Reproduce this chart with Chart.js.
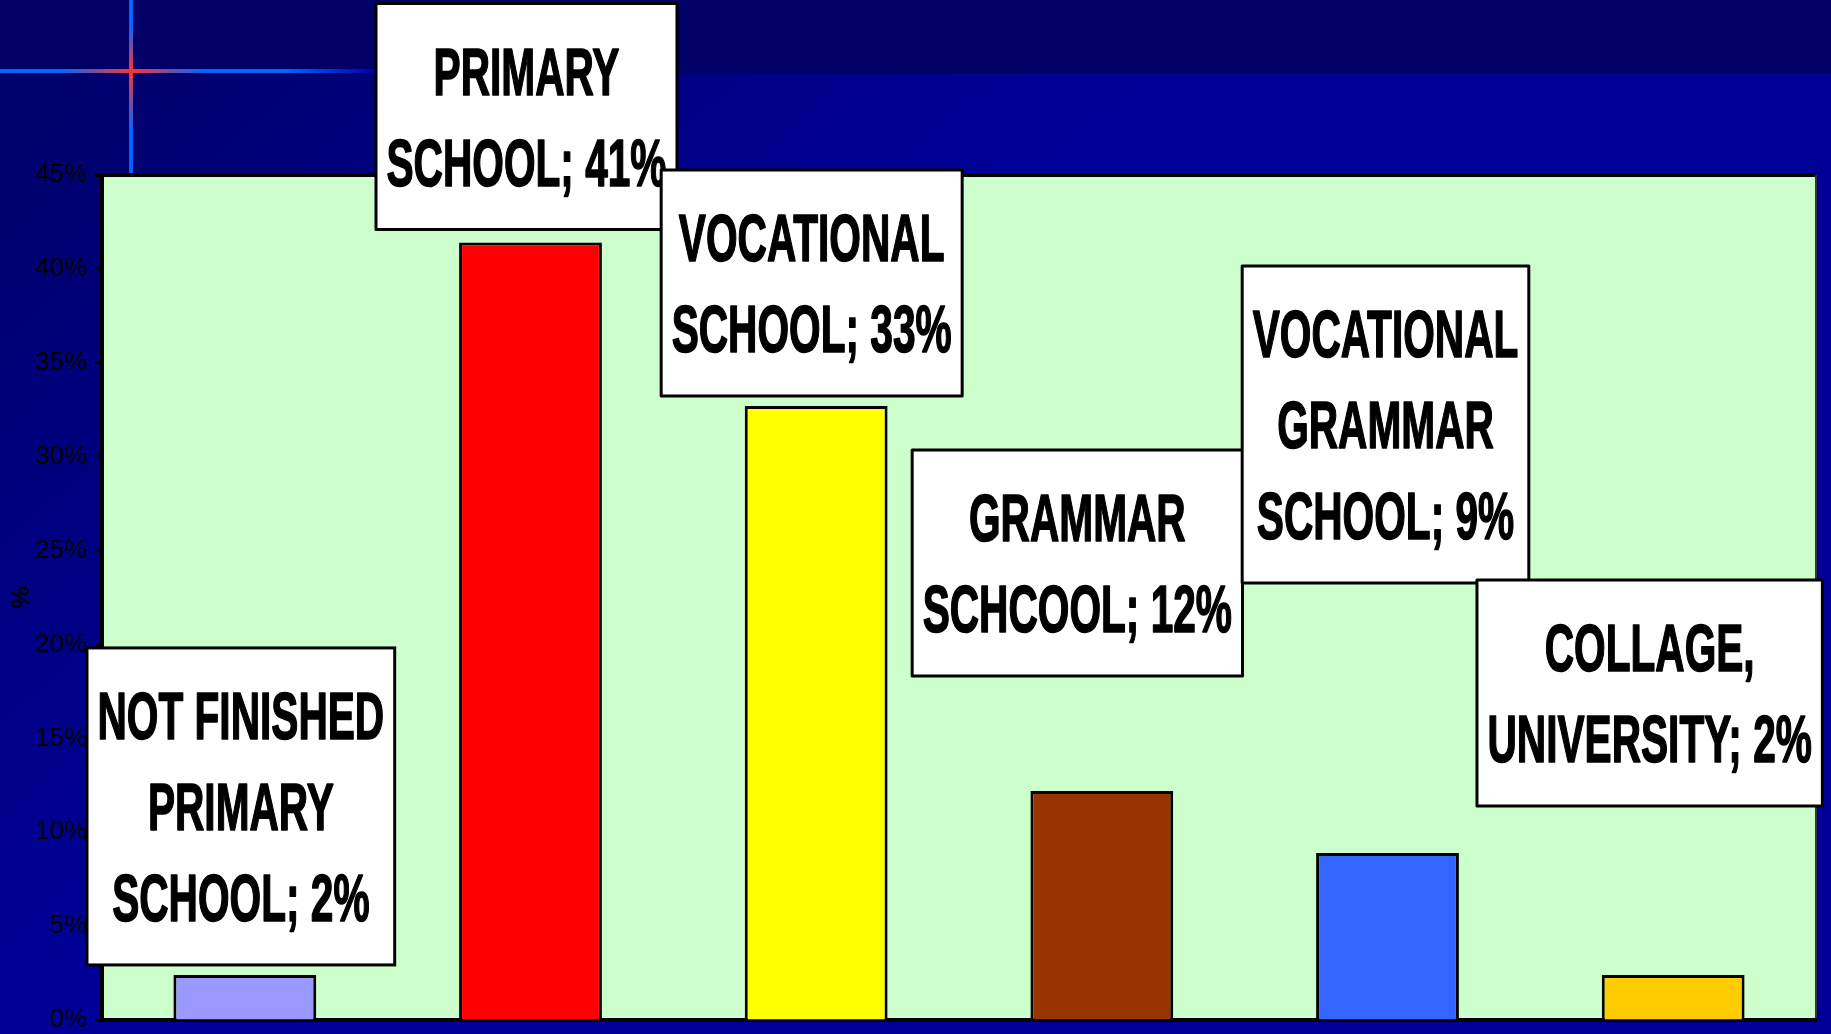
<!DOCTYPE html>
<html>
<head>
<meta charset="utf-8">
<script src="https://cdn.jsdelivr.net/npm/chart.js@4.4.1/dist/chart.umd.min.js"></script>
<style>
    html, body { margin: 0; padding: 0; background: #000066; }
    canvas { display: block; }
</style>
</head>
<body>
<canvas id="barChart" width="1831" height="1034"></canvas>
<script>
// Education level categories (last line gets the "; NN%" part)
var categories = [
    ["NOT FINISHED", "PRIMARY", "SCHOOL"],
    ["PRIMARY", "SCHOOL"],
    ["VOCATIONAL", "SCHOOL"],
    ["GRAMMAR", "SCHCOOL"],
    ["VOCATIONAL", "GRAMMAR", "SCHOOL"],
    ["COLLAGE,", "UNIVERSITY"]
];
// Share of respondents, in percent
var shares = [2.4, 41.4, 32.7, 12.2, 8.9, 2.4];
var barColors = ["#9999FF", "#FF0000", "#FFFF00", "#993300", "#3366FF", "#FFCC00"];
// y axis range in percent
var yMin = 0, yMax = 45, yStep = 5;

// Slide background, decorative cross and the green plot area
var backdrop = {
    id: "backdrop",
    beforeDraw: function (chart) {
        var ctx = chart.ctx, w = chart.width, h = chart.height, a = chart.chartArea;
        ctx.save();
        var g = ctx.createLinearGradient(0, 0, 900, 1034);
        g.addColorStop(0, "#000066");
        g.addColorStop(0.6, "#000099");
        g.addColorStop(1, "#000099");
        ctx.fillStyle = g;
        ctx.fillRect(0, 0, w, h);
        ctx.fillStyle = "#000066";
        ctx.fillRect(0, 0, w, 73);

        // horizontal stroke of the cross
        var gh = ctx.createLinearGradient(0, 0, 440, 0);
        gh.addColorStop(0, "#0066FF");
        gh.addColorStop(0.14, "#0066FF");
        gh.addColorStop(0.30, "#FF3333");
        gh.addColorStop(0.46, "#0066FF");
        gh.addColorStop(0.65, "#0066FF");
        gh.addColorStop(0.85, "#0000AA");
        gh.addColorStop(1, "rgba(0,0,153,0)");
        ctx.fillStyle = gh;
        ctx.fillRect(0, 69, 440, 4);
        // vertical stroke of the cross
        var gv = ctx.createLinearGradient(0, 0, 0, 173);
        gv.addColorStop(0, "#0066FF");
        gv.addColorStop(0.15, "#0066FF");
        gv.addColorStop(0.41, "#FF3333");
        gv.addColorStop(0.75, "#0066FF");
        gv.addColorStop(1, "#0066FF");
        ctx.fillStyle = gv;
        ctx.fillRect(129, 0, 4, 173);

        // plot area
        ctx.fillStyle = "#CCFFCC";
        ctx.fillRect(a.left, a.top, a.right - a.left, a.bottom - a.top);
        ctx.strokeStyle = "#000";
        ctx.lineWidth = 4;
        ctx.beginPath();
        ctx.moveTo(a.left, a.top);
        ctx.lineTo(a.right, a.top);
        ctx.stroke();
        ctx.strokeStyle = "#333";
        ctx.lineWidth = 2;
        ctx.beginPath();
        ctx.moveTo(a.right, a.top);
        ctx.lineTo(a.right, a.bottom);
        ctx.stroke();
        ctx.restore();
    }
};

// White boxed data labels, condensed bold text
var labelBoxes = {
    id: "labelBoxes",
    afterDraw: function (chart, args, opts) {
        var ctx = chart.ctx;
        var meta = chart.getDatasetMeta(0);
        ctx.save();
        ctx.font = 'bold 67px "Liberation Sans Narrow", "Arial Narrow", "Liberation Sans", sans-serif';
        var sx = 280 / ctx.measureText("SCHOOL; 41%").width; // squeeze to match the slide
        meta.data.forEach(function (bar, i) {
            var lines = chart.data.labels[i].slice();
            lines[lines.length - 1] += "; " + Math.round(shares[i]) + "%";
            var textW = Math.max.apply(null, lines.map(function (l) { return ctx.measureText(l).width * sx; }));
            var bw = textW + 21;
            var bh = lines.length * opts.lineHeight + 44;
            var cx = bar.x + opts.offsets[i][0];
            var bottom = bar.y + opts.offsets[i][1];
            var top = bottom - bh;
            ctx.fillStyle = "#FFFFFF";
            ctx.fillRect(cx - bw / 2, top, bw, bh);
            ctx.lineWidth = 3;
            ctx.strokeStyle = "#000";
            ctx.strokeRect(cx - bw / 2, top, bw, bh);
            ctx.fillStyle = "#000";
            ctx.textAlign = "center";
            ctx.textBaseline = "alphabetic";
            ctx.lineWidth = 1.6;
            ctx.lineJoin = "round";
            lines.forEach(function (l, k) {
                ctx.save();
                ctx.translate(cx, top + opts.lineHeight * (k + 1));
                ctx.scale(sx, 1);
                ctx.fillText(l, 0, 0);
                ctx.strokeText(l, 0, 0);
                ctx.restore();
            });
        });
        ctx.restore();
    }
};

var ctx = document.getElementById("barChart").getContext("2d");
var chart = new Chart(ctx, {
    type: "bar",
    data: {
        labels: categories,
        datasets: [{
            data: shares,
            backgroundColor: barColors,
            borderColor: "#000",
            borderWidth: 3,
            barPercentage: 0.5,
            categoryPercentage: 1.0
        }]
    },
    options: {
        responsive: false,
        animation: false,
        layout: { padding: { top: 175, right: 15, bottom: 14, left: 0 } },
        plugins: {
            legend: { display: false },
            tooltip: { enabled: false },
            labelBoxes: {
                lineHeight: 91,
                // [dx, dy] of each box's bottom centre from its bar top
                offsets: [[-4, -10], [-4, -13], [-4.5, -10], [-24.5, -115], [-2, -270], [-23.5, -169]]
            }
        },
        scales: {
            x: {
                ticks: { display: false },
                grid: { display: false },
                border: { display: true, color: "#000", width: 4 },
                afterFit: function (scale) {
                    scale.height = 0;
                    scale.paddingLeft = 0; scale.paddingRight = 0;
                }
            },
            y: {
                min: yMin,
                max: yMax,
                ticks: {
                    stepSize: yStep,
                    color: "#000",
                    padding: 8,
                    font: { family: '"Liberation Sans Narrow", "Arial Narrow", "Liberation Sans"', size: 26 },
                    callback: function (v) { return v + "%"; }
                },
                grid: { drawOnChartArea: false, drawTicks: true, tickLength: 7, tickWidth: 3, tickColor: "#000" },
                border: { display: true, color: "#000", width: 4 },
                title: {
                    display: true,
                    text: "%",
                    color: "#000",
                    padding: { top: 6, bottom: 4 },
                    font: { family: '"Liberation Sans"', size: 26, weight: "bold" }
                },
                afterFit: function (scale) {
                    scale.width = 102;
                    scale.paddingTop = 0; scale.paddingBottom = 0;
                }
            }
        }
    },
    plugins: [backdrop, labelBoxes]
});
</script>
</body>
</html>
